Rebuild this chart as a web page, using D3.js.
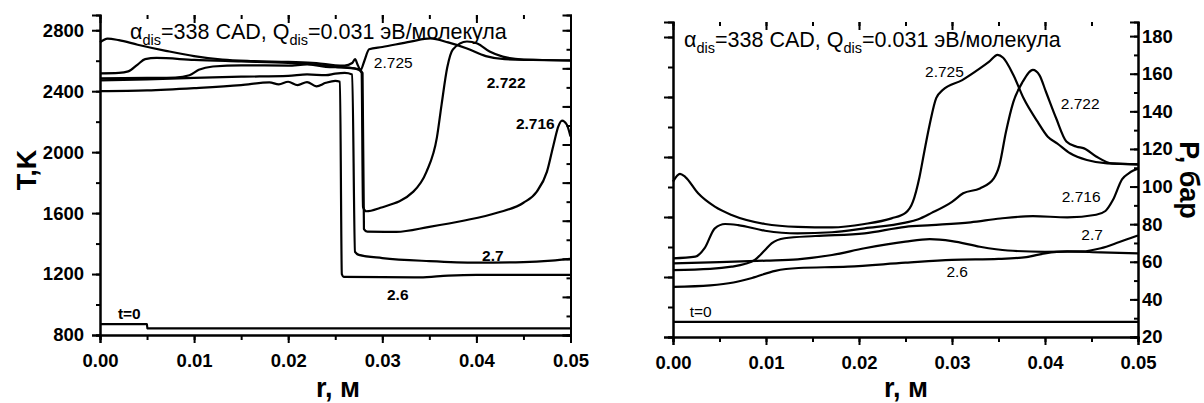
<!DOCTYPE html>
<html><head><meta charset="utf-8">
<script src="https://cdn.jsdelivr.net/npm/d3@7"></script>
<style>
body{margin:0;background:#fff;}
svg{display:block;font-family:"Liberation Sans",Arial,sans-serif;}
</style></head>
<body><svg id="c" width="1204" height="403"></svg>
<script>
// ---------- data ----------
const xTicks = [0, 0.01, 0.02, 0.03, 0.04, 0.05];
const tTicks = [800, 1200, 1600, 2000, 2400, 2800];
const pTicks = [20, 40, 60, 80, 100, 120, 140, 160, 180];

// Temperature, K  (left panel)  [r, T]
const T_t0   = [[0,872],[0.005,872],[0.00502,844],[0.05,844]];
const T_2600 = [[0,2400],[0.005,2405],[0.01,2420],[0.015,2440],[0.018,2458],[0.019,2445],[0.02,2462],[0.021,2440],[0.022,2460],[0.023,2432],[0.024,2455],[0.025,2468],[0.0255,2462],[0.0257,1200],[0.0259,1182],[0.03,1180],[0.034,1178],[0.037,1190],[0.04,1195],[0.05,1195]];
const T_2700 = [[0,2471],[0.005,2478],[0.01,2488],[0.015,2495],[0.02,2500],[0.022,2510],[0.024,2505],[0.025,2515],[0.026,2520],[0.0268,2510],[0.0271,1345],[0.0275,1326],[0.03,1305],[0.035,1285],[0.04,1275],[0.045,1278],[0.048,1288],[0.05,1300]];
const T_2716 = [[0,2484],[0.005,2487],[0.008,2490],[0.0095,2505],[0.0105,2540],[0.012,2562],[0.015,2570],[0.02,2568],[0.022,2575],[0.024,2560],[0.026,2555],[0.0275,2545],[0.0279,2520],[0.02805,1495],[0.0284,1478],[0.0315,1477],[0.035,1510],[0.0386,1550],[0.0422,1602],[0.045,1668],[0.0464,1740],[0.0475,1872],[0.0482,2049],[0.0487,2168],[0.0491,2207],[0.0496,2181],[0.05,2102]];
const T_2722 = [[0,2517],[0.002,2520],[0.003,2530],[0.004,2575],[0.0048,2610],[0.006,2618],[0.01,2605],[0.015,2595],[0.02,2585],[0.023,2575],[0.025,2560],[0.0265,2555],[0.0275,2540],[0.0278,2520],[0.02795,1640],[0.0283,1612],[0.0298,1635],[0.0333,1741],[0.0347,1872],[0.0358,2095],[0.0363,2312],[0.0369,2555],[0.0375,2674],[0.039,2726],[0.0401,2713],[0.0414,2660],[0.0428,2627],[0.045,2608],[0.05,2603]];
const T_2725 = [[0,2720],[0.0008,2745],[0.002,2735],[0.004,2705],[0.007,2665],[0.01,2630],[0.013,2608],[0.016,2598],[0.02,2592],[0.023,2585],[0.025,2570],[0.026,2568],[0.0268,2585],[0.0271,2610],[0.0274,2570],[0.0277,2540],[0.0281,2600],[0.0286,2675],[0.03,2690],[0.033,2725],[0.0351,2746],[0.037,2720],[0.039,2680],[0.041,2630],[0.043,2610],[0.046,2605],[0.05,2600]];

// Pressure, bar (right panel)  [r, P]
const P_t0   = [[0,28],[0.05,28]];
const P_2600 = [[0,46.7],[0.004,47.5],[0.0065,49],[0.0085,51.4],[0.011,55.2],[0.0135,56.7],[0.0188,57.4],[0.025,59.5],[0.03,61],[0.035,61.5],[0.038,62.5],[0.04,64.5],[0.0424,65.5],[0.046,65],[0.05,64.5]];
const P_2700 = [[0,59.2],[0.005,59.8],[0.01,60.6],[0.0134,61.3],[0.0171,63.6],[0.0206,67.2],[0.025,70.7],[0.0276,72],[0.03,71],[0.033,68],[0.036,66],[0.04,65.3],[0.044,65.5],[0.046,67.2],[0.048,70.5],[0.05,74]];
const P_2716 = [[0,55.6],[0.004,56.2],[0.0063,57.4],[0.0077,58.8],[0.0088,61],[0.0099,66.3],[0.0106,69.8],[0.012,72.5],[0.0153,73.7],[0.0206,75.1],[0.025,78.6],[0.0278,79.5],[0.032,81],[0.0352,83],[0.0387,84.3],[0.0424,83.6],[0.0455,85],[0.0465,87],[0.0473,92.8],[0.0483,104],[0.049,107],[0.0495,108.5],[0.05,109.5]];
const P_2722 = [[0,61.8],[0.0024,62.7],[0.0034,67.2],[0.0045,77.8],[0.0056,80.1],[0.007,79.5],[0.0099,76.5],[0.0134,75.1],[0.0171,75.7],[0.0206,77.8],[0.025,80.8],[0.0263,82.5],[0.0278,86],[0.03,91.9],[0.0312,96.4],[0.033,99],[0.0345,104.4],[0.0351,111.4],[0.0358,129],[0.0366,145],[0.0376,155.7],[0.0387,162],[0.0394,159.3],[0.0401,150.4],[0.0412,136.3],[0.0423,124],[0.0434,121.2],[0.0442,120.3],[0.0455,116],[0.0472,112.3],[0.05,111.8]];
const P_2725 = [[0,102.6],[0.00075,106.7],[0.0013,105.2],[0.0027,96.4],[0.0045,89.3],[0.0063,84.9],[0.0099,80.1],[0.0134,78.6],[0.0171,78.3],[0.0206,80.1],[0.0235,83.1],[0.025,86],[0.0258,92],[0.0265,105],[0.027,118],[0.0276,133],[0.0283,147],[0.029,151.3],[0.0311,156.6],[0.033,162.8],[0.034,166.4],[0.0349,170],[0.0355,168.5],[0.0366,159.3],[0.0377,146.9],[0.0392,134.5],[0.0403,126.5],[0.0413,123],[0.0427,117.7],[0.0445,114.1],[0.0467,112.3],[0.05,111.8]];

// curve labels [r, value, text, bold]
const T_labels = [[0.0291,2555,"2.725",false],[0.0411,2421,"2.722",true],[0.0442,2152,"2.716",true],[0.0406,1283,"2.7",true],[0.0305,1030,"2.6",true],[0.0019,905,"t=0",true]];
const P_labels = [[0.0271,158.5,"2.725"],[0.0417,141,"2.722"],[0.0418,92,"2.716"],[0.0439,71.5,"2.7"],[0.0294,52,"2.6"],[0.0018,30.5,"t=0"]];

// ---------- drawing ----------
const svg = d3.select("#c");
const FONT = '"Liberation Sans",Arial,sans-serif';

const xL = d3.scaleLinear([0,0.05],[100,570.5]);
const tL = d3.scaleLinear([800,2900],[335,15]);
const pL = d3.scaleLinear([20,188],[335,15]);
const xR = d3.scaleLinear([0,0.05],[673,1138]);
const pR = d3.scaleLinear([20,187.5],[337,22]);
const tR = d3.scaleLinear([800,2900],[337,22]);

function styleAxis(g, labels){
  g.select(".domain").attr("stroke","#000").attr("stroke-width",2);
  g.selectAll(".tick line").attr("stroke","#000").attr("stroke-width",2);
  g.selectAll(".tick text").attr("fill","#000").style("font-family",FONT)
    .style("font-weight","bold").style("font-size","18.5px");
  if(!labels) g.selectAll(".tick text").remove();
}
function minorTicks(scale, step){
  const d = scale.domain(); const out=[];
  for(let v=Math.ceil(d[0]/step-1e-9)*step; v<=d[1]+1e-12; v+=step) out.push(+v.toFixed(6));
  return out;
}

function panel(x, yTop, yBot){
  svg.append("g").attr("transform",`translate(0,${yBot})`)
    .call(d3.axisBottom(x).tickValues(minorTicks(x,0.005)).tickSize(5).tickFormat(""))
    .call(g=>styleAxis(g,false));
  svg.append("g").attr("transform",`translate(0,${yBot})`)
    .call(d3.axisBottom(x).tickValues(xTicks).tickSize(8).tickPadding(11).tickFormat(d3.format(".2f")))
    .call(g=>styleAxis(g,true));
  const top = svg.append("g").attr("transform",`translate(0,${yTop})`)
    .call(d3.axisTop(x).tickValues(minorTicks(x,0.005)).tickSize(-4).tickFormat(""))
    .call(g=>styleAxis(g,false));
  top.select(".domain").remove();
  const top2 = svg.append("g").attr("transform",`translate(0,${yTop})`)
    .call(d3.axisTop(x).tickValues(xTicks).tickSize(-8).tickFormat(""))
    .call(g=>styleAxis(g,false));
  top2.select(".domain").remove();
}

// LEFT PANEL
panel(xL, 15, 335);
svg.append("g").attr("transform","translate(100,0)")
  .call(d3.axisLeft(tL).tickValues(minorTicks(tL,200)).tickSize(4).tickFormat(""))
  .call(g=>styleAxis(g,false));
svg.append("g").attr("transform","translate(100,0)")
  .call(d3.axisLeft(tL).tickValues(tTicks).tickSize(8).tickPadding(8).tickFormat(d3.format("d")))
  .call(g=>styleAxis(g,true));
svg.append("g").attr("transform","translate(570.5,0)")
  .call(d3.axisRight(pL).tickValues(minorTicks(pL,10)).tickSize(-4).tickFormat(""))
  .call(g=>styleAxis(g,false));
svg.append("g").attr("transform","translate(570.5,0)")
  .call(d3.axisRight(pL).tickValues(pTicks).tickSize(-8).tickFormat(""))
  .call(g=>styleAxis(g,false));

// RIGHT PANEL
panel(xR, 22, 337);
svg.append("g").attr("transform","translate(673,0)")
  .call(d3.axisLeft(tR).tickValues(minorTicks(tR,200)).tickSize(5).tickFormat(""))
  .call(g=>styleAxis(g,false));
svg.append("g").attr("transform","translate(673,0)")
  .call(d3.axisLeft(tR).tickValues(tTicks).tickSize(9).tickFormat(""))
  .call(g=>styleAxis(g,false));
svg.append("g").attr("transform","translate(1138,0)")
  .call(d3.axisRight(pR).tickValues(minorTicks(pR,10)).tickSize(-4).tickFormat(""))
  .call(g=>styleAxis(g,false));
svg.append("g").attr("transform","translate(1138,0)")
  .call(d3.axisRight(pR).tickValues(pTicks).tickSize(-8).tickPadding(4).tickFormat(d3.format("d")))
  .call(g=>{styleAxis(g,true); g.selectAll(".tick text").attr("x",4);});

// curves
const lineT = d3.line().x(d=>xL(d[0])).y(d=>tL(d[1])).curve(d3.curveMonotoneX);
const lineP = d3.line().x(d=>xR(d[0])).y(d=>pR(d[1])).curve(d3.curveMonotoneX);
[T_t0,T_2600,T_2700,T_2716,T_2722,T_2725].forEach(s=>{
  svg.append("path").attr("d",lineT(s)).attr("fill","none").attr("stroke","#000").attr("stroke-width",2.2).attr("stroke-linejoin","round");
});
[P_t0,P_2600,P_2700,P_2716,P_2722,P_2725].forEach(s=>{
  svg.append("path").attr("d",lineP(s)).attr("fill","none").attr("stroke","#000").attr("stroke-width",2.2).attr("stroke-linejoin","round");
});

// curve labels
T_labels.forEach(([r,v,t,b])=>{
  svg.append("text").attr("x",xL(r)).attr("y",tL(v)).attr("fill","#000")
    .style("font-family",FONT).style("font-size","15.5px").style("font-weight",b?"bold":"normal").text(t);
});
P_labels.forEach(([r,v,t])=>{
  svg.append("text").attr("x",xR(r)).attr("y",pR(v)).attr("fill","#000")
    .style("font-family",FONT).style("font-size","15.5px").text(t);
});

// titles
function title(x,y){
  const t = svg.append("text").attr("x",x).attr("y",y).attr("fill","#000")
    .style("font-family",FONT).style("font-size","21.5px");
  t.append("tspan").text("α");
  t.append("tspan").attr("dy",6).style("font-size","14.5px").text("dis");
  t.append("tspan").attr("dy",-6).text("=338 CAD, Q");
  t.append("tspan").attr("dy",6).style("font-size","14.5px").text("dis");
  t.append("tspan").attr("dy",-6).text("=0.031 эВ/молекула");
}
title(130,39);
title(684,47);

// axis titles
const AX = "27px";
svg.append("text").attr("x",338).attr("y",397).attr("text-anchor","middle")
  .style("font-family",FONT).style("font-weight","bold").style("font-size",AX).text("r, м");
svg.append("text").attr("x",906).attr("y",397).attr("text-anchor","middle")
  .style("font-family",FONT).style("font-weight","bold").style("font-size",AX).text("r, м");
svg.append("text").attr("transform","translate(36,170) rotate(-90)").attr("text-anchor","middle")
  .style("font-family",FONT).style("font-weight","bold").style("font-size",AX).text("T,K");
svg.append("text").attr("transform","translate(1180,180) rotate(90)").attr("text-anchor","middle")
  .style("font-family",FONT).style("font-weight","bold").style("font-size",AX).text("P, бар");
</script></body></html>
